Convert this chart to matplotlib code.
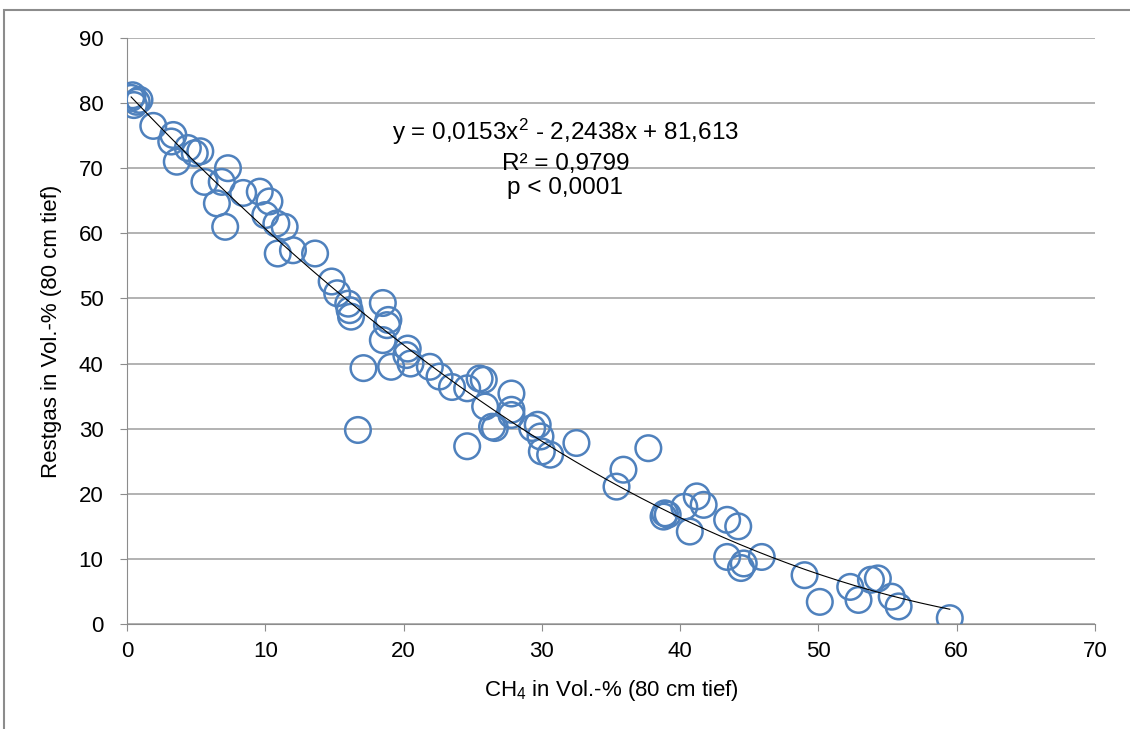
import matplotlib.pyplot as plt
import numpy as np
from matplotlib.patches import Rectangle

# CH4 (x) and Restgas (y)
ch4 = [0.3, 0.5, 0.9, 0.4, 0.7, 1.9, 3.35, 3.2, 3.6, 4.4, 4.9, 5.3,
       5.6, 7.3, 6.85, 6.5, 7.1, 8.4, 9.6, 10.3, 10.0, 10.8, 11.4, 10.9,
       12.0, 13.6, 14.8, 15.2, 16.0, 16.1, 16.2, 18.5, 18.9, 18.8, 18.5,
       17.1, 19.1, 20.3, 20.2, 20.5, 21.9, 22.6, 23.5, 24.6, 25.5, 16.7,
       25.9, 26.4, 24.6, 25.8, 27.8, 27.8, 27.8, 26.6, 29.3, 29.7, 29.9,
       30.0, 30.6, 32.5, 35.9, 35.4, 37.7, 38.9, 38.8, 39.1, 40.3, 41.2,
       41.7, 40.7, 43.4, 44.2, 43.4, 44.6, 44.4, 45.9, 49.0, 50.1, 52.3,
       52.9, 53.8, 54.3, 55.3, 55.8, 59.5]
restgas = [80.8, 79.7, 80.5, 81.2, 80.2, 76.5, 75.1, 74.1, 71.0, 73.1, 72.3, 72.6,
           67.9, 70.0, 67.9, 64.6, 61.0, 66.2, 66.4, 64.9, 62.8, 61.5, 61.0, 56.9,
           57.4, 56.9, 52.6, 50.8, 49.2, 48.2, 47.2, 49.3, 46.7, 45.9, 43.6,
           39.3, 39.5, 42.3, 41.3, 40.0, 39.5, 38.0, 36.4, 36.2, 37.7, 29.8,
           33.4, 30.3, 27.3, 37.5, 35.4, 32.9, 32.1, 30.1, 30.1, 30.6, 28.8,
           26.5, 26.0, 27.8, 23.7, 21.1, 27.0, 17.0, 16.5, 16.8, 18.0, 19.6,
           18.3, 14.2, 16.0, 15.0, 10.3, 9.3, 8.6, 10.3, 7.5, 3.4, 5.7,
           3.7, 6.8, 7.0, 4.2, 2.7, 0.9]

# Excel polynomial trendline (order 2)
coef = [0.0153, -2.2438, 81.613]

xticks = [0, 10, 20, 30, 40, 50, 60, 70]
yticks = [0, 10, 20, 30, 40, 50, 60, 70, 80, 90]

plt.rcParams['font.family'] = ['Liberation Sans', 'DejaVu Sans']
plt.rcParams['mathtext.fontset'] = 'custom'
plt.rcParams['mathtext.rm'] = 'Liberation Sans'
plt.rcParams['mathtext.default'] = 'rm'

fig = plt.figure(figsize=(11.3, 7.29), dpi=100)
ax = fig.add_axes([0.1124, 0.144, 0.8566, 0.8039])

# chart area border (only top and left edges are visible in the reference)
fig.patches.append(Rectangle((4 / 1130, -0.1), 1.2, 1 - 10 / 729 + 0.1,
                             transform=fig.transFigure, fill=False,
                             edgecolor='#8c8c8c', linewidth=1.5))

ax.scatter(ch4, restgas, s=340, facecolors='none', edgecolors='#4f81bd',
           linewidths=1.8, zorder=3)

xs = np.linspace(min(ch4), max(ch4), 200)
ax.plot(xs, np.polyval(coef, xs), color='black', linewidth=0.8, zorder=4)

ax.set_xlim(0, 70)
ax.set_ylim(0, 90)
ax.set_xticks(xticks)
ax.set_yticks(yticks)
ax.grid(axis='y', color='#a6a6a6', linewidth=1.2)
ax.set_axisbelow(True)
for side in ['top', 'right']:
    ax.spines[side].set_visible(False)
for side in ['left', 'bottom']:
    ax.spines[side].set_color('#8c8c8c')
ax.tick_params(axis='both', direction='out', length=5, color='#8c8c8c',
               labelsize=16)
ax.tick_params(axis='y', pad=12)
ax.tick_params(axis='x', pad=7)

ax.set_xlabel('CH$_4$ in Vol.-% (80 cm tief)', fontsize=16, labelpad=12)
ax.set_ylabel('Restgas in Vol.-% (80 cm tief)', fontsize=16, labelpad=12)

ax.text(31.7, 75.5, 'y = 0,0153x$^2$ - 2,2438x + 81,613', fontsize=17.5,
        ha='center', va='center')
ax.text(31.7, 70.6, 'R² = 0,9799', fontsize=17.5, ha='center', va='center')
ax.text(31.7, 67.0, 'p < 0,0001', fontsize=17.5, ha='center', va='center')

plt.savefig('out.png', dpi=100)
